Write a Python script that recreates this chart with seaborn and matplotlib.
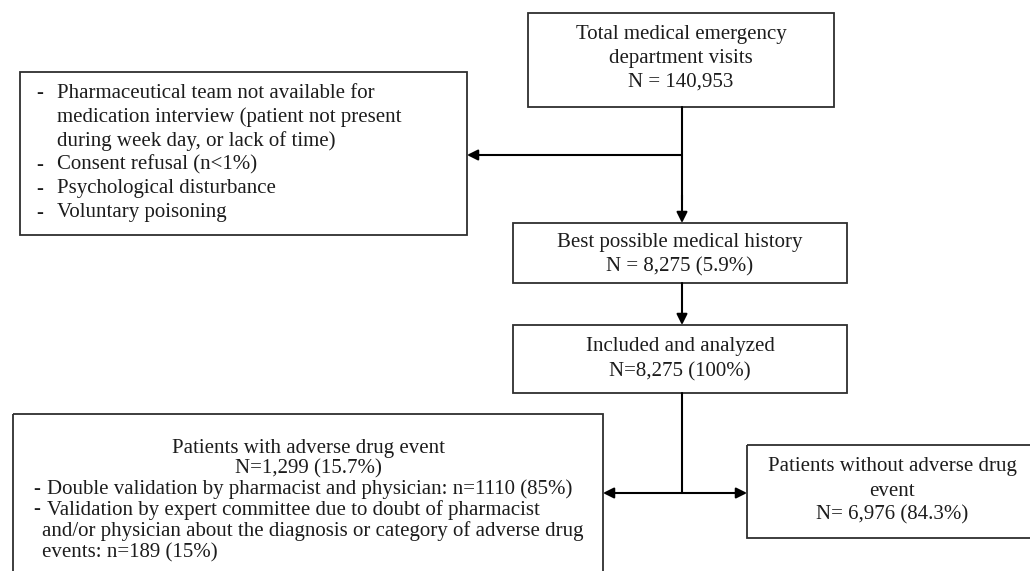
import matplotlib
matplotlib.use('agg')
import matplotlib.pyplot as plt
from matplotlib.patches import Rectangle
import seaborn as sns

# flow counts
total_visits = 140953
bpmh_n, bpmh_pct = 8275, 5.9
included_n, included_pct = 8275, 100
ade_n, ade_pct = 1299, 15.7
no_ade_n, no_ade_pct = 6976, 84.3
double_n, double_pct = 1110, 85
committee_n, committee_pct = 189, 15

exclusion_lines = [
    ("-", "Pharmaceutical team not available for"),
    ("", "medication interview (patient not present"),
    ("", "during week day, or lack of time)"),
    ("-", "Consent refusal (n<1%)"),
    ("-", "Psychological disturbance"),
    ("-", "Voluntary poisoning"),
]

sns.set_theme(style='white')
plt.rcParams['font.family'] = ['Liberation Serif', 'DejaVu Serif']

fig = plt.figure(figsize=(10.30, 5.71), dpi=100)
ax = fig.add_axes([0, 0, 1, 1])
ax.set_xlim(0, 1030)
ax.set_ylim(571, 0)
ax.axis('off')

FS = 15
TXT = '#1c1c1c'
EDGE = '#2e2e2e'


def box(x0, y0, x1, y1):
    ax.add_patch(Rectangle((x0, y0), x1 - x0, y1 - y0, fill=False,
                           edgecolor=EDGE, linewidth=1.3, clip_on=True))


def center_lines(cx, ys, lines):
    for y, s in zip(ys, lines):
        ax.text(cx, y, s, ha='center', va='center', fontsize=FS, color=TXT)


def arrow(x0, y0, x1, y1, style='-|>'):
    ax.annotate('', xy=(x1, y1), xytext=(x0, y0),
                arrowprops=dict(arrowstyle=style, color='black', lw=1.5,
                                mutation_scale=16, shrinkA=0, shrinkB=0))


# top box
box(528, 13, 834, 107)
center_lines(681, [34, 58, 82], ["Total medical emergency", "department visits",
                                 f"N = {total_visits:,}"])

# exclusion box
box(20, 72, 467, 235)
for i, (dash, s) in enumerate(exclusion_lines):
    y = 93 + 24 * i
    if dash:
        ax.text(36, y, dash, ha='left', va='center', fontsize=FS, color=TXT)
    ax.text(57, y, s, ha='left', va='center', fontsize=FS, color=TXT)

# main spine
ax.plot([682, 682], [107, 200], color='black', lw=1.5)
arrow(682, 155, 467, 155)
arrow(682, 195, 682, 223)

# best possible medication history
box(513, 223, 847, 283)
center_lines(680, [243, 267], ["Best possible medical history",
                               f"N = {bpmh_n:,} ({bpmh_pct}%)"])
arrow(682, 283, 682, 325)

# included
box(513, 325, 847, 393)
center_lines(680, [347, 372], ["Included and analyzed",
                               f"N={included_n:,} ({included_pct}%)"])

ax.plot([682, 682], [393, 493], color='black', lw=1.5)
arrow(603, 493, 747, 493, style='<|-|>')

# patients with ADE
box(13, 414, 603, 590)
center_lines(308, [448, 469], ["Patients with adverse drug event",
                               f"N={ade_n:,} ({ade_pct}%)"])
ax.text(33, 489, "-", ha='left', va='center', fontsize=FS, color=TXT)
ax.text(47, 489, f"Double validation by pharmacist and physician: n={double_n} ({double_pct}%)",
        ha='left', va='center', fontsize=FS, color=TXT)
ax.text(33, 510, "-", ha='left', va='center', fontsize=FS, color=TXT)
ax.text(47, 510, "Validation by expert committee due to doubt of pharmacist",
        ha='left', va='center', fontsize=FS, color=TXT)
ax.text(42, 531, "and/or physician about the diagnosis or category of adverse drug",
        ha='left', va='center', fontsize=FS, color=TXT)
ax.text(42, 553, f"events: n={committee_n} ({committee_pct}%)",
        ha='left', va='center', fontsize=FS, color=TXT)

# patients without ADE
box(747, 445, 1040, 538)
center_lines(892, [467, 492, 515], ["Patients without adverse drug", "event",
                                    f"N= {no_ade_n:,} ({no_ade_pct}%)"])

fig.savefig('out.png', dpi=100)
plt.close(fig)
